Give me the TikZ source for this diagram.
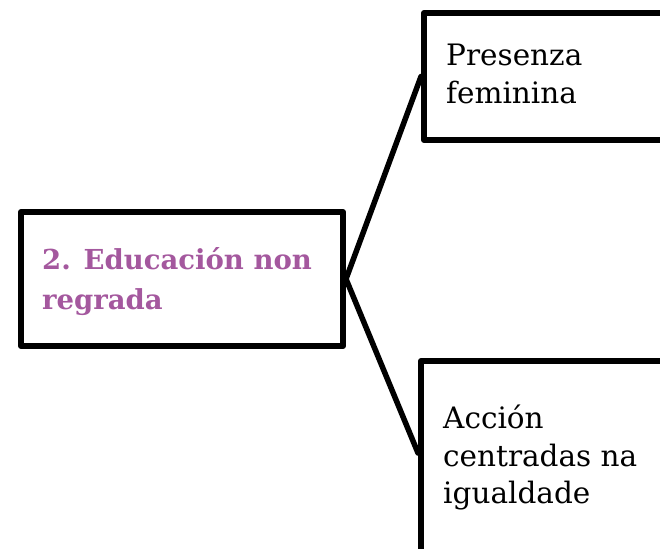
\documentclass[tikz,border=0pt]{standalone}
\usepackage{fontspec}
\setmainfont{DejaVu Serif}
\usetikzlibrary{calc}
\definecolor{purp}{HTML}{A4589E}
\tikzset{
  boxshape/.style={draw=black, line width=6pt, line join=round, fill=white, minimum width=#1, inner sep=0pt, anchor=north west},
  conn/.style={draw=black, line width=5.5pt, line cap=round},
  lbl/.style={inner sep=0pt, anchor=north west, align=left, font=\fontsize{29.5}{37.5}\selectfont},
  mainlbl/.style={lbl, font=\bfseries\fontsize{27.5}{40}\selectfont, text=purp}
}
\begin{document}
\begin{tikzpicture}[x=1pt,y=-1pt]
\useasboundingbox (0,0) rectangle (660,548);
\clip (0,0) rectangle (660,548);
\fill[white] (0,0) rectangle (660,548);
\node[boxshape=322pt, minimum height=134pt] (main) at (18,209) {};
\node[boxshape=300pt, minimum height=127pt] (top) at (421,10) {};
\node[boxshape=300pt, minimum height=200pt] (bot) at (418,358) {};
\coordinate (botin) at ($(bot.north west)+(0,95)$);
\draw[conn] (main.east) -- (top.west);
\draw[conn] (main.east) -- (botin);
\node[mainlbl] (mainT) at (42,247) {2. Educación non\\regrada};
\node[lbl] (topT) at (446,44) {Presenza\\feminina};
\node[lbl] (botT) at (443,405) {Acción\\centradas na\\igualdade};
\end{tikzpicture}
\end{document}
